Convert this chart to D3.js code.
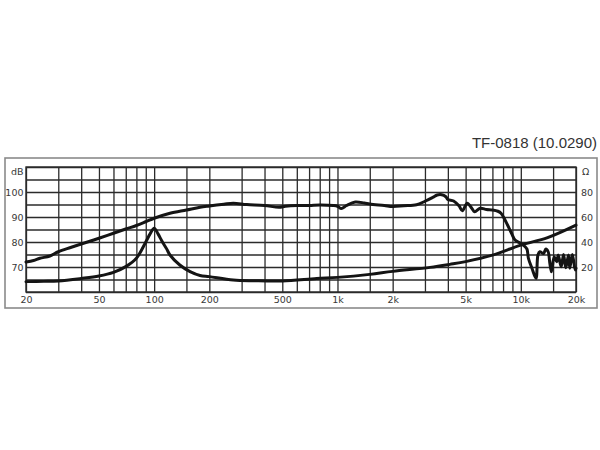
<!DOCTYPE html>
<html>
<head>
<meta charset="utf-8">
<script src="https://cdn.jsdelivr.net/npm/d3@7"></script>
<style>
  html, body { margin: 0; padding: 0; background: #fff; }
  svg { display: block; }
</style>
</head>
<body>
<svg id="chart" width="600" height="450"></svg>
<script>
// ---- data ----
const title = "TF-0818 (10.0290)";

const splFreq = [20, 22, 23.8, 27, 30, 35, 40, 45, 50, 60, 70, 80, 90, 100, 122, 150, 178, 200, 240, 270, 320, 400, 480, 520, 600, 700, 800, 950, 1000, 1050, 1120, 1250, 1400, 1500, 1800, 2000, 2300, 2700, 3000, 3300, 3500, 3700, 3900, 4000, 4300, 4600, 4800, 5100, 5400, 5600, 6000, 6500, 7000, 7500, 7800, 8200, 8900, 9300, 9900, 10300, 10800, 11000, 11500, 12100, 12400, 12700, 13300, 13700, 14100, 14400, 14700, 15200, 15700, 16000, 16600, 17100, 17600, 18200, 18500, 19100, 19800, 20000];
const splDb   = [72, 72.6, 73.5, 74.4, 76.1, 77.8, 79.2, 80.4, 81.5, 83.5, 85.2, 86.6, 88.1, 89.5, 91.5, 92.8, 93.9, 94.4, 95.1, 95.5, 95.0, 94.6, 93.9, 94.3, 94.6, 94.6, 94.8, 94.6, 94.3, 93.4, 94.6, 96.0, 95.6, 95.2, 94.6, 94.2, 94.5, 94.9, 96.3, 97.8, 98.8, 98.9, 98.1, 97.0, 96.4, 94.5, 92.5, 95.5, 93.5, 92.1, 93.5, 93.0, 92.8, 92.3, 91.5, 88.8, 83.5, 80.8, 79.6, 78.8, 77.2, 73.5, 69.5, 65.5, 74.8, 76.1, 75.4, 77.2, 76.1, 71.5, 68.1, 74.1, 72.1, 74.8, 70.1, 75.0, 69.7, 74.8, 69.5, 75.0, 68.8, 69.5];

const impFreq = [20, 25, 30, 40, 50, 60, 70, 80, 90, 95, 100, 105, 110, 117, 122, 138, 157, 178, 200, 270, 350, 500, 770, 1000, 1500, 2000, 3200, 4100, 5000, 7000, 10000, 14000, 20000];
const impOhm  = [8.3, 8.5, 8.8, 10.8, 12.8, 15.7, 20.3, 27.0, 40.0, 46.5, 51.0, 46.5, 41.0, 34.5, 29.6, 21.6, 16.3, 13.2, 12.3, 9.6, 9.0, 8.8, 10.8, 11.7, 14.1, 16.5, 19.7, 22.1, 24.3, 29.5, 37.5, 43.5, 53.5];

const gridFreqs = [20, 30, 40, 50, 60, 70, 80, 90, 100, 150, 200, 300, 400, 500, 600, 700, 800, 900, 1000, 1500, 2000, 3000, 4000, 5000, 6000, 7000, 8000, 9000, 10000, 15000, 20000];
const freqLabelValues = [20, 50, 100, 200, 500, 1000, 2000, 5000, 10000, 20000];
const freqLabels = ["20", "50", "100", "200", "500", "1k", "2k", "5k", "10k", "20k"];
const dbGrid = [60, 65, 70, 75, 80, 85, 90, 95, 100, 105, 110];
const dbLabelValues = [70, 80, 90, 100];
const ohmLabelValues = [20, 40, 60, 80];
const dbUnit = "dB";
const ohmUnit = "Ω";

// ---- layout ----
const L = 26, R = 576, T = 167, B = 292;
const svg = d3.select("#chart");

const x = d3.scaleLog().domain([20, 20000]).range([L, R]);
const yDb = d3.scaleLinear().domain([60, 110]).range([B, T]);
const yOhm = d3.scaleLinear().domain([0, 100]).range([B, T]);

const labelFont = "'DejaVu Sans', Verdana, sans-serif";
const labelColor = "#383838";

// outer frame
svg.append("rect")
  .attr("x", 5).attr("y", 158).attr("width", 592).attr("height", 150)
  .attr("fill", "#fff").attr("stroke", "#8a8a8a").attr("stroke-width", 1.6);

// title
svg.append("text")
  .attr("x", 597).attr("y", 148)
  .attr("text-anchor", "end")
  .attr("font-family", "'Liberation Sans', Arial, sans-serif")
  .attr("font-size", 15)
  .attr("fill", "#333")
  .text(title);

// vertical grid
const vGrid = svg.append("g")
  .attr("transform", `translate(0,${B})`)
  .call(d3.axisBottom(x).tickValues(gridFreqs).tickSize(-(B - T)).tickFormat(""));
vGrid.select(".domain").remove();
vGrid.selectAll("line").attr("stroke", "#2b2b2b").attr("stroke-width", 1.3);

// horizontal grid
const hGrid = svg.append("g")
  .attr("transform", `translate(${L},0)`)
  .call(d3.axisLeft(yDb).tickValues(dbGrid).tickSize(-(R - L)).tickFormat(""));
hGrid.select(".domain").remove();
hGrid.selectAll("line").attr("stroke", "#2b2b2b").attr("stroke-width", 1.3);

// plot border
svg.append("rect")
  .attr("x", L).attr("y", T).attr("width", R - L).attr("height", B - T)
  .attr("fill", "none").attr("stroke", "#2b2b2b").attr("stroke-width", 1.4);

// x labels
const xAx = svg.append("g")
  .attr("transform", `translate(0,${B})`)
  .call(d3.axisBottom(x).tickValues(freqLabelValues).tickSize(0).tickPadding(4)
    .tickFormat((d, i) => freqLabels[i]));
xAx.select(".domain").remove();
xAx.selectAll("text").attr("font-family", labelFont).attr("font-size", 9.5).attr("fill", labelColor);

// left labels
const yAxL = svg.append("g")
  .attr("transform", `translate(${L},0)`)
  .call(d3.axisLeft(yDb).tickValues(dbLabelValues).tickSize(0).tickPadding(2.5));
yAxL.select(".domain").remove();
yAxL.selectAll("text").attr("font-family", labelFont).attr("font-size", 9.5).attr("fill", labelColor);
svg.append("text")
  .attr("x", L - 2.5).attr("y", yDb(110) + 4.8)
  .attr("dy", "0.32em")
  .attr("text-anchor", "end")
  .attr("font-family", labelFont).attr("font-size", 9.5).attr("fill", labelColor)
  .text(dbUnit);

// right labels
const yAxR = svg.append("g")
  .attr("transform", `translate(${R},0)`)
  .call(d3.axisRight(yOhm).tickValues(ohmLabelValues).tickSize(0).tickPadding(5));
yAxR.select(".domain").remove();
yAxR.selectAll("text").attr("font-family", labelFont).attr("font-size", 9.5).attr("fill", labelColor);
svg.append("text")
  .attr("x", R + 6).attr("y", yOhm(100) + 4.8)
  .attr("dy", "0.32em")
  .attr("font-family", labelFont).attr("font-size", 9.5).attr("fill", labelColor)
  .text(ohmUnit);

// curves
const splData = splFreq.map((f, i) => [f, splDb[i]]);
const impData = impFreq.map((f, i) => [f, impOhm[i]]);

svg.append("path")
  .datum(impData)
  .attr("fill", "none").attr("stroke", "#141414").attr("stroke-width", 3)
  .attr("stroke-linejoin", "round").attr("stroke-linecap", "round")
  .attr("d", d3.line().x(d => x(d[0])).y(d => yOhm(d[1])).curve(d3.curveCatmullRom.alpha(0.5)));

svg.append("path")
  .datum(splData)
  .attr("fill", "none").attr("stroke", "#141414").attr("stroke-width", 3)
  .attr("stroke-linejoin", "round").attr("stroke-linecap", "round")
  .attr("d", d3.line().x(d => x(d[0])).y(d => yDb(d[1])).curve(d3.curveCatmullRom.alpha(0.5)));
</script>
</body>
</html>
